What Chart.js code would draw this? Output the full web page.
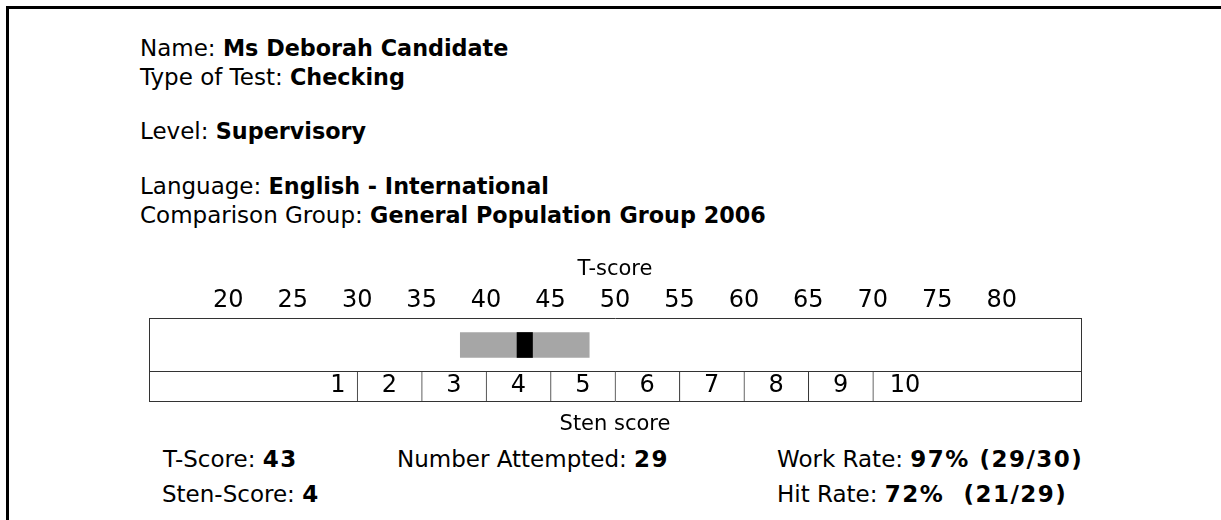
<!DOCTYPE html>
<html>
<head>
<meta charset="utf-8">
<script src="https://cdn.jsdelivr.net/npm/chart.js@4"></script>
<style>
  body { margin: 0; width: 1221px; height: 520px; background: #fff; overflow: hidden;
         font-family: "DejaVu Sans", Verdana, sans-serif; color: #000; }
  #frame { position: absolute; left: 6px; top: 6px; right: 0; bottom: 0;
           border-top: 3px solid #000; border-left: 3px solid #000; }
  .line { position: absolute; font-size: 23px; line-height: 22px; white-space: pre; }
  .head b { font-size: 22.3px; }
  .stat b { letter-spacing: 1.5px; }
  #chartWrap { position: absolute; left: 0; top: 250px; width: 1221px; height: 190px; }
</style>
</head>
<body>
<div id="frame"></div>

<div class="line head" style="left:140px; top:37px">Name: <b>Ms Deborah Candidate</b></div>
<div class="line head" style="left:140px; top:66px">Type of Test: <b>Checking</b></div>
<div class="line head" style="left:140px; top:120px">Level: <b>Supervisory</b></div>
<div class="line head" style="left:140px; top:175px">Language: <b>English - International</b></div>
<div class="line head" style="left:140px; top:204px">Comparison Group: <b>General Population Group 2006</b></div>

<div id="chartWrap"><canvas id="scoreChart" width="1221" height="190"></canvas></div>

<div class="line stat" style="left:163px; top:448px">T-Score: <b>43</b></div>
<div class="line stat" style="left:397px; top:448px">Number Attempted: <b>29</b></div>
<div class="line stat" style="left:777px; top:448px">Work Rate: <b>97% (29/30)</b></div>
<div class="line stat" style="left:162px; top:483px">Sten-Score: <b>4</b></div>
<div class="line stat" style="left:777px; top:483px">Hit Rate: <b>72%  (21/29)</b></div>

<script>
// ====== Data ======
const tTicks = [20, 25, 30, 35, 40, 45, 50, 55, 60, 65, 70, 75, 80];
const stenLabels = ["1", "2", "3", "4", "5", "6", "7", "8", "9", "10"];
const stenFrom = [27, 30, 35, 40, 45, 50, 55, 60, 65, 70];
const stenTo = [30, 35, 40, 45, 50, 55, 60, 65, 70, 75];
const tScore = 43;
const bandLow = 38;
const bandHigh = 48;

// ====== Layout (rows in pixel-like units of the y scale) ======
const T_MIN = 13.85, T_MAX = 86.15;
const ROWS_END = 83, ROW_SPLIT = 53, BAND_ROW = 27, STEN_ROW = 68;
const MARKER_HALF = 0.6;
const LINE = "#333";
const FONT = "DejaVu Sans";

// sten numbers centred in their cells
const stenLabelPlugin = {
  id: "stenLabels",
  afterDatasetsDraw(chart) {
    const meta = chart.getDatasetMeta(2);
    const ctx = chart.ctx;
    ctx.save();
    ctx.font = "24px '" + FONT + "'";
    ctx.fillStyle = "#000";
    ctx.textAlign = "center";
    ctx.textBaseline = "middle";
    meta.data.forEach((bar, i) => {
      const c = bar.getCenterPoint();
      ctx.fillText(stenLabels[i], c.x, c.y);
    });
    ctx.restore();
  }
};

new Chart(document.getElementById("scoreChart"), {
  type: "bar",
  data: {
    datasets: [
      {
        label: "T-score",
        data: [{ x: [tScore - MARKER_HALF, tScore + MARKER_HALF], y: BAND_ROW }],
        backgroundColor: "#000",
        barThickness: 25
      },
      {
        label: "Band",
        data: [{ x: [bandLow, bandHigh], y: BAND_ROW }],
        backgroundColor: "#a6a6a6",
        barThickness: 25
      },
      {
        label: "Sten",
        data: stenLabels.map((s, i) => ({ x: [stenFrom[i], stenTo[i]], y: STEN_ROW })),
        backgroundColor: "#fff",
        borderColor: LINE,
        borderSkipped: false,
        borderWidth: (c) => c.dataIndex === 0 ? 0 : { left: 1, right: 0, top: 0, bottom: 0 },
        barThickness: 30
      }
    ]
  },
  options: {
    indexAxis: "y",
    responsive: false,
    animation: false,
    datasets: { bar: { grouped: false } },
    layout: { padding: { left: 149, right: 140, top: 0, bottom: 0 } },
    plugins: { legend: { display: false }, tooltip: { enabled: false } },
    scales: {
      x: {
        type: "linear",
        position: "top",
        min: T_MIN,
        max: T_MAX,
        afterBuildTicks: (s) => { s.ticks = tTicks.map((v) => ({ value: v })); },
        afterFit: (s) => { s.height = 68; },
        ticks: { autoSkip: false, maxRotation: 0, padding: 3, color: "#000",
                 font: { family: FONT, size: 24 } },
        grid: { display: false, drawTicks: false },
        border: { display: true, color: LINE, width: 1, z: 1 },
        title: { display: true, text: "T-score", color: "#000",
                 font: { family: FONT, size: 21 }, padding: { top: 7, bottom: 0 } }
      },
      x2: {
        type: "linear",
        position: "bottom",
        min: 0,
        max: 1,
        afterFit: (s) => { s.height = 39; },
        ticks: { display: false },
        grid: { display: false, drawTicks: false },
        border: { display: true, color: LINE, width: 1, z: 1 },
        title: { display: true, text: "Sten score", color: "#000",
                 font: { family: FONT, size: 21 }, padding: { top: 0, bottom: 3 } }
      },
      y: {
        type: "linear",
        position: "left",
        min: 0,
        max: ROWS_END,
        reverse: true,
        offset: false,
        afterBuildTicks: (s) => { s.ticks = [{ value: ROW_SPLIT }]; },
        afterFit: (s) => { s.width = 0; },
        ticks: { display: false },
        grid: { offset: false, color: LINE, lineWidth: 1, drawTicks: false, z: 1 },
        border: { display: true, color: LINE, width: 1, z: 1 }
      },
      y2: {
        type: "linear",
        position: "right",
        display: true,
        afterFit: (s) => { s.width = 0; },
        ticks: { display: false },
        grid: { display: false, drawTicks: false },
        border: { display: true, color: LINE, width: 1, z: 1 }
      }
    }
  },
  plugins: [stenLabelPlugin]
});
</script>
</body>
</html>
